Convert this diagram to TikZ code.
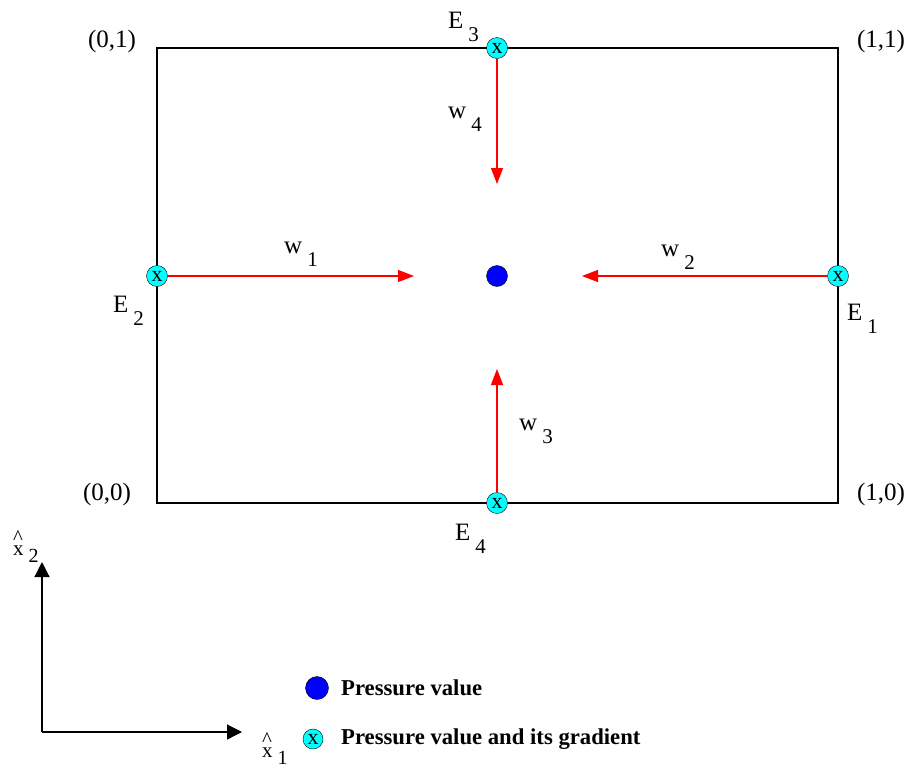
\documentclass[tikz,border=0pt]{standalone}
\usepackage{fontspec}
\setmainfont{Liberation Serif}
\usetikzlibrary{arrows.meta,positioning}
\definecolor{aqua}{RGB}{0,255,255}
\newcommand{\lowsub}[1]{\kern5pt\raisebox{-13pt}{\fontsize{21}{21}\selectfont #1}}
\newcommand{\axsub}[1]{\kern5pt\raisebox{-7pt}{\fontsize{20}{20}\selectfont #1}}
\newcommand{\hatx}{\makebox[0pt][l]{\raisebox{11pt}{\textasciicircum}}x}

\begin{document}
\begin{tikzpicture}[x=1pt,y=-1pt,
  lbl/.style={font=\fontsize{25}{25}\selectfont,inner sep=0pt},
  sublbl/.style={font=\fontsize{25}{25}\selectfont,inner sep=0pt,anchor=base west},
  axlbl/.style={font=\fontsize{21}{21}\selectfont,inner sep=0pt,anchor=base west},
  legtxt/.style={font=\fontsize{22.7}{22.7}\selectfont\bfseries,anchor=west,inner sep=0pt},
  gradpt/.style={circle,draw,fill=aqua,inner sep=0pt,minimum size=21pt,font=\fontsize{22}{22}\selectfont},
  prespt/.style={circle,draw,fill=blue,inner sep=0pt,minimum size=21pt},
  flux/.style={-{Triangle[length=16pt,width=12pt]},red,line width=1.2pt},
  axis/.style={-{Triangle[length=15pt,width=15pt]},black,line width=1.2pt}]
\useasboundingbox (0,0) rectangle (912,772);
% reference element
\draw[line width=1.2pt] (157,48) rectangle (838,503);
\node[lbl] (c01) at (112,41) {(0,1)};
\node[lbl] (c11) at (881,41) {(1,1)};
\node[lbl] (c00) at (107,494) {(0,0)};
\node[lbl] (c10) at (881,494) {(1,0)};
% degrees of freedom
\node[prespt] (P) at (497,276) {};
\node[gradpt] (E1) at (838,276) {x};
\node[gradpt] (E2) at (157,276) {x};
\node[gradpt] (E3) at (497,48) {x};
\node[gradpt] (E4) at (497,503) {x};
\node[sublbl] (lE1) at (847,320) {E\lowsub{1}};
\node[sublbl] (lE2) at (113,312) {E\lowsub{2}};
\node[sublbl] (lE3) at (448,28) {E\lowsub{3}};
\node[sublbl] (lE4) at (455,540) {E\lowsub{4}};
% fluxes
\coordinate (w1end) at (414,276);
\coordinate (w2end) at (582,276);
\coordinate (w3end) at (497,369);
\coordinate (w4end) at (497,184);
\draw[flux] (E2) -- (w1end);
\draw[flux] (E1) -- (w2end);
\draw[flux] (E4) -- (w3end);
\draw[flux] (E3) -- (w4end);
\node[sublbl] (lw1) at (284,253) {w\lowsub{1}};
\node[sublbl] (lw2) at (661,256) {w\lowsub{2}};
\node[sublbl] (lw3) at (519,430) {w\lowsub{3}};
\node[sublbl] (lw4) at (448,118) {w\lowsub{4}};
% axes
\coordinate (O) at (42,732);
\coordinate (ax2) at (42,562);
\coordinate (ax1) at (242,732);
\draw[axis] (O) -- (ax2);
\draw[axis] (O) -- (ax1);
\node[axlbl] (lx2) at (13,555) {\hatx\axsub{2}};
\node[axlbl] (lx1) at (262,757) {\hatx\axsub{1}};
% legend
\node[prespt,minimum size=23pt] (legP) at (317,688) {};
\node[gradpt,minimum size=20pt] (legE) at (313,739) {x};
\node[legtxt] (txtP) at (341,688) {Pressure value};
\node[legtxt] (txtE) at (341,739) {Pressure value and its gradient};
\end{tikzpicture}
\end{document}
